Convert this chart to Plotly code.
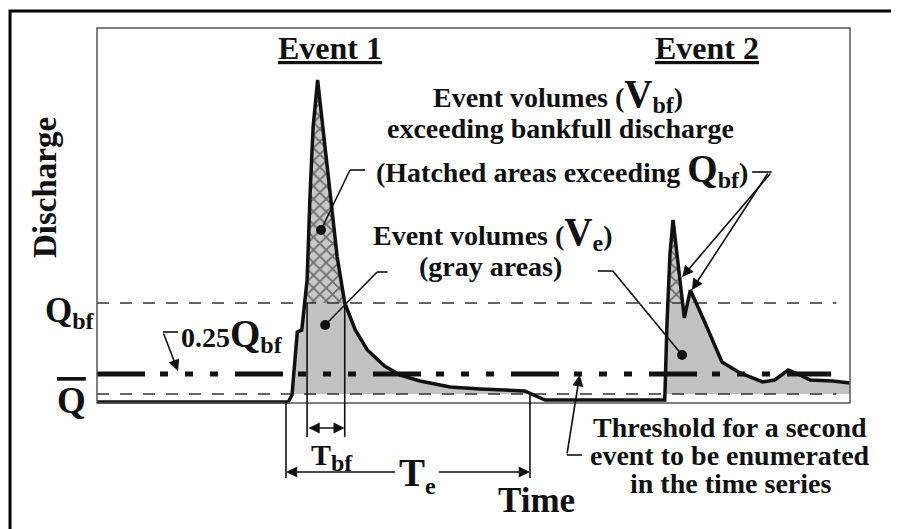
import plotly.graph_objects as go

# ---------------- data (time in days, discharge in arbitrary units) ----------
time = [0, 25.4, 25.9, 26.6, 27.2, 27.6, 27.9, 28.3, 28.7, 29.3, 30.0, 30.9,
        31.9, 32.9, 34.3, 35.9, 38.2, 40.2, 42.9, 46.9, 50.9, 56.8, 58.2, 59.5,
        75.4, 75.7, 76.1, 76.5, 78.0, 78.8, 80.7, 83.0, 85.4, 88.4, 90.0, 91.8,
        93.1, 94.7, 97.7, 100]
discharge = [1, 1, 8, 71, 73, 100, 123, 210, 276, 323, 276, 210,
             146, 100, 73, 53, 37, 28, 22, 16, 14, 12, 7, 3,
             3, 80, 150, 183, 85, 113, 81, 41, 30, 21, 23, 33,
             29, 23, 22, 20]
Q_BF = 100        # bankfull discharge
Q_MEAN = 9        # mean discharge
Q_THRESH = 29     # threshold for a new event (0.25 Qbf)
T_START, T_END = 0, 99

FONT = "Liberation Serif"
INK = "#111111"


def regions_above(t, q, level):
    polys, cur = [], None
    for i in range(len(t)):
        a_cur = q[i] >= level
        if i > 0:
            a_prev = q[i - 1] >= level
            if a_prev != a_cur:
                tc = t[i - 1] + (level - q[i - 1]) * (t[i] - t[i - 1]) / (q[i] - q[i - 1])
                if a_cur:
                    cur = [(tc, level)]
                else:
                    cur.append((tc, level))
                    polys.append(cur)
                    cur = None
        elif a_cur:
            cur = [(t[0], level)]
        if a_cur:
            cur.append((t[i], q[i]))
    if cur is not None:
        cur.append((t[-1], level))
        polys.append(cur)
    return polys


fig = go.Figure()

# gray event volumes (above mean discharge)
for poly in regions_above(time, discharge, Q_MEAN):
    xs = [p[0] for p in poly]
    ys = [p[1] for p in poly]
    fig.add_trace(go.Scatter(x=xs, y=ys, fill="toself", fillcolor="#c2c2c2",
                             mode="none", hoverinfo="skip", showlegend=False))

# hatched volumes above bankfull
for poly in regions_above(time, discharge, Q_BF):
    xs = [p[0] for p in poly]
    ys = [p[1] for p in poly]
    fig.add_trace(go.Scatter(x=xs, y=ys, fill="toself", fillcolor="#c8c8c8",
                             fillpattern=dict(shape="x", fgcolor="#111111",
                                              bgcolor="#c8c8c8", size=9, solidity=0.35),
                             mode="none", hoverinfo="skip", showlegend=False))

# reference levels
fig.add_trace(go.Scatter(x=[T_START, T_END - 0.8], y=[Q_BF, Q_BF], mode="lines",
                         line=dict(color="#333333", width=1.6, dash="12px,11px"),
                         hoverinfo="skip", showlegend=False))
fig.add_trace(go.Scatter(x=[T_START, T_END - 0.8], y=[Q_MEAN, Q_MEAN], mode="lines",
                         line=dict(color="#333333", width=1.6, dash="12px,11px"),
                         hoverinfo="skip", showlegend=False))
fig.add_trace(go.Scatter(x=[T_START, T_END - 1.5], y=[Q_THRESH, Q_THRESH], mode="lines",
                         line=dict(color=INK, width=5,
                                   dash="48px,15px,8px,17px,8px,17px,8px,17px"),
                         hoverinfo="skip", showlegend=False))

# hydrograph
fig.add_trace(go.Scatter(x=time, y=discharge, mode="lines",
                         line=dict(color=INK, width=3.5),
                         hoverinfo="skip", showlegend=False))

# leader dots
fig.add_trace(go.Scatter(x=[29.75, 30.3, 77.7], y=[173, 78, 48], mode="markers",
                         marker=dict(color=INK, size=10), hoverinfo="skip",
                         showlegend=False))

shapes = []
# outer frame and inner plot frame
shapes.append(dict(type="rect", x0=-11.55, x1=130, y0=-160, y1=392,
                   line=dict(color="black", width=3)))
shapes.append(dict(type="rect", x0=0, x1=100, y0=0, y1=375,
                   line=dict(color="#555555", width=1.5)))


def seg(x0, y0, x1, y1, w=1.6):
    shapes.append(dict(type="line", x0=x0, y0=y0, x1=x1, y1=y1,
                       line=dict(color=INK, width=w)))


# duration guides
seg(25.1, 1, 25.1, -75)
seg(57.5, 10, 57.5, -75)
seg(27.9, 100, 27.9, -34)
seg(32.9, 100, 32.9, -34)
# leader lines
seg(35.6, 233, 33.6, 233); seg(33.6, 233, 29.75, 173)
seg(38.6, 131, 37.2, 131); seg(37.2, 131, 30.3, 78)
seg(66.5, 132, 68.5, 132); seg(68.5, 132, 77.7, 48)
seg(87.0, 231, 89.6, 231)
seg(10.76, 71, 8.76, 71)
seg(64.4, -52, 62.4, -52)

anns = []


def arrow(x, y, ax, ay, side="end", w=1.6):
    anns.append(dict(x=x, y=y, ax=ax, ay=ay, xref="x", yref="y", axref="x", ayref="y",
                     text="", showarrow=True, arrowhead=2, arrowsize=1.4,
                     arrowwidth=w, arrowcolor=INK, standoff=0, startstandoff=0,
                     arrowside=side, startarrowhead=2, startarrowsize=1.4))


arrow(77.7, 126, 89.6, 231)
arrow(79.0, 113, 89.2, 231)
arrow(10.76, 32, 8.76, 71)
arrow(64.1, 28, 62.4, -52)
arrow(32.9, -25, 27.9, -25, side="end+start")
arrow(25.1, -69, 39.8, -69)
arrow(57.5, -69, 45.2, -69)


def label(x, y, text, size=28, angle=0, line=None):
    f = dict(family=FONT, size=size, color=INK, weight="bold")
    if line:
        f["lineposition"] = line
    anns.append(dict(x=x, y=y, xref="x", yref="y", text=text, showarrow=False,
                     font=f, textangle=angle, xanchor="center", yanchor="middle"))


BIG = "<span style='font-size:39px'>{}</span>"
SUB = "<sub><span style='font-size:24px'>{}</span></sub>"
label(30.94, 355, "Event 1", size=32, line="under")
label(81.0, 355, "Event 2", size=32, line="under")
label(-6.9, 215, "Discharge", size=33, angle=-90)
label(-3.6, 91, "Q" + SUB.format("bf"), size=35)
label(-3.45, 3, "Q", size=37, line="over")
label(17.9, 68, "0.25" + BIG.format("Q") + SUB.format("bf"))
label(61.2, 308, "Event volumes (" + BIG.format("V") + SUB.format("bf") + ")")
label(61.5, 275, "exceeding bankfull discharge")
label(61.75, 233, "(Hatched areas exceeding " + BIG.format("Q") + SUB.format("bf") + ")")
label(52.5, 170, "Event volumes (" + BIG.format("V") + SUB.format("e") + ")")
label(52.3, 137, "(gray areas)")
label(84.1, -24, "Threshold for a second")
label(84.1, -52, "event to be enumerated")
label(84.1, -80, "in the time series")
label(58.4, -97, "Time", size=35)
label(31.2, -54, "T" + SUB.format("bf"), size=30)
label(42.5, -72, "T" + SUB.format("e"), size=39)

# the page adds an 8 px body margin, so the figure is 8 px smaller and the
# axis ranges start 8 px in
fig.update_layout(
    width=891, height=521, autosize=False,
    margin=dict(l=0, r=0, t=0, b=0, pad=0),
    paper_bgcolor="white", plot_bgcolor="white",
    xaxis=dict(range=[-11.82, 106.51], visible=False, fixedrange=True),
    yaxis=dict(range=[-126, 395], visible=False, fixedrange=True),
    shapes=shapes, annotations=anns, showlegend=False,
)

fig.write_html("out.html", config={"displayModeBar": False})
